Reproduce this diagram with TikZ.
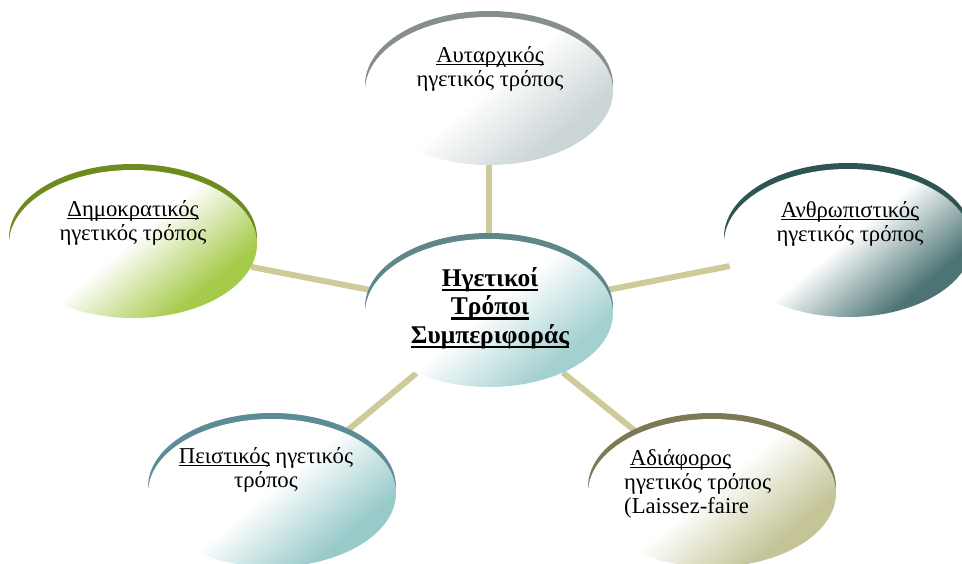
\documentclass[tikz,border=0pt]{standalone}
\usepackage{fontspec}
\setmainfont{Liberation Serif}
\usetikzlibrary{shapes.geometric,backgrounds}

% palette
\definecolor{linkcol}{HTML}{CFCA9A}
\definecolor{rimGray}{HTML}{868E8E}
\definecolor{fillGray}{HTML}{CBD4D6}
\definecolor{rimTeal}{HTML}{5F878A}
\definecolor{fillTeal}{HTML}{A3D0D0}
\definecolor{rimGreen}{HTML}{6E8C1E}
\definecolor{fillGreen}{HTML}{A6CA4A}
\definecolor{rimSlate}{HTML}{2D5552}
\definecolor{fillSlate}{HTML}{4C7474}
\definecolor{rimAqua}{HTML}{5C8C94}
\definecolor{fillAqua}{HTML}{98CACA}
\definecolor{rimOlive}{HTML}{7B7A54}
\definecolor{fillOlive}{HTML}{C4C497}

% white towards one side, tinted towards the other
\newcommand\makefade[2]{%
  \pgfdeclareverticalshading{#1}{100bp}{color(0bp)=(#2); color(29bp)=(#2);
    color(39bp)=(#2!55!white); color(51bp)=(white); color(100bp)=(white)}}
\makefade{fadeGray}{fillGray}
\makefade{fadeTeal}{fillTeal}
\makefade{fadeGreen}{fillGreen}
\makefade{fadeSlate}{fillSlate}
\makefade{fadeAqua}{fillAqua}
\makefade{fadeOlive}{fillOlive}

% underlined word
\newcommand\ulw[1]{\leavevmode\setbox0\hbox{#1}%
  \rlap{\rule[-3pt]{\wd0}{0.9pt}}\box0\relax}
\newcommand\ulwb[1]{\leavevmode\setbox0\hbox{#1}%
  \rlap{\rule[-5pt]{\wd0}{2.2pt}}\box0\relax}

\tikzset{
  bubble/.style={ellipse, minimum width=248pt, minimum height=148pt,
    inner sep=0pt, shading angle=40},
  rim/.style={ellipse, minimum width=248pt, minimum height=148pt,
    inner sep=0pt, fill=#1},
  caption/.style={inner sep=0pt, align=center, anchor=base,
    font=\fontsize{22.7pt}{24pt}\selectfont},
  title/.style={inner sep=0pt, align=center, anchor=base,
    font=\fontsize{25.5pt}{28.5pt}\selectfont\bfseries},
  link/.style={draw=linkcol, line width=6pt}
}

\begin{document}
\begin{tikzpicture}[x=1pt, y=-1pt]
\useasboundingbox (0,0) rectangle (962,563);

% outer bubbles: coloured rim first, shaded body over it
\node[rim=rimGray]  (tRim)  at (489,85)  {};
\node[bubble, shading=fadeGray] (t) at (489,91) {};

\node[rim=rimGreen] (lRim)  at (133,238) {};
\node[bubble, shading=fadeGreen] (l) at (133,244) {};

\node[rim=rimSlate] (rRim)  at (848,237) {};
\node[bubble, shading=fadeSlate] (r) at (848,243) {};

\node[rim=rimAqua]  (blRim) at (272,487) {};
\node[bubble, shading=fadeAqua] (bl) at (272,493) {};

\node[rim=rimOlive] (brRim) at (712,487) {};
\node[bubble, shading=fadeOlive] (br) at (712,493) {};

% central bubble
\node[rim=rimTeal]  (cRim)  at (489,307) {};
\node[bubble, shading=fadeTeal] (c) at (489,313) {};

% spokes behind the bubbles
\begin{scope}[on background layer]
  \draw[link] (c) -- (t);
  \draw[link] (c) -- (l);
  \draw[link] (c) -- (r);
  \draw[link] (c) -- (bl);
  \draw[link] (c) -- (br);
\end{scope}

% texts (anchored at the baseline of their last line)
\node[title] (cT) at (490,343)
  {\ulwb{Ηγετικοί}\\\ulwb{Τρόποι}\\\ulwb{Συμπεριφοράς}};
\node[caption] (tT) at (490,86) {\ulw{Αυταρχικός}\\ηγετικός τρόπος};
\node[caption] (lT) at (133,240) {\ulw{Δημοκρατικός}\\ηγετικός τρόπος};
\node[caption] (rT) at (850,241) {\ulw{Ανθρωπιστικός}\\ηγετικός τρόπος};
\node[caption] (blT) at (266,487) {\ulw{Πειστικός} ηγετικός\\τρόπος};
\node[caption, align=left, anchor=base west] (brT) at (624,513)
  {\ \ulw{Αδιάφορος}\\ηγετικός τρόπος\\(Laissez-faire};
\end{tikzpicture}
\end{document}
